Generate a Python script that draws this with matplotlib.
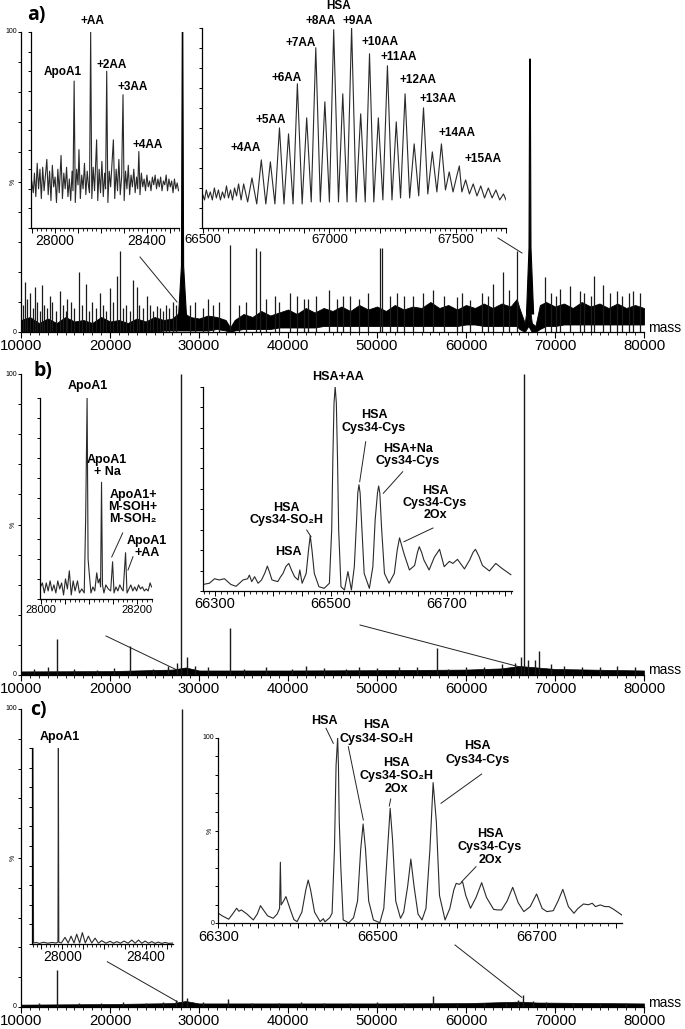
import matplotlib
matplotlib.use('Agg')
import matplotlib.pyplot as plt
from matplotlib.ticker import MultipleLocator, FuncFormatter
from matplotlib.lines import Line2D

W, H = 685, 1029
plt.rcParams['font.family'] = ['Liberation Sans', 'DejaVu Sans']

# ---------------- DATA ----------------
# Panel a, main spectrum (noise envelope, spikes, main peaks)
a_band_x = [10000, 11000, 12000, 13000, 14000, 15000, 16000, 17000, 18000, 19000, 20000, 21000, 22000, 23000,
            24000, 25000, 26000, 27000, 28000, 29000, 30000, 31000, 32000, 33000, 33500, 34000, 35000, 36000,
            37000, 38000, 39000, 40000, 41000, 42000, 43000, 44000, 45000, 46000, 47000, 48000, 49000, 50000,
            51000, 52000, 53000, 54000, 55000, 56000, 57000, 58000, 59000, 60000, 61000, 62000, 63000, 64000,
            65000, 65700, 66000, 66600, 67000, 67400, 67800, 68300, 69000, 70000, 71000, 72000, 73000, 74000,
            75000, 76000, 77000, 78000, 79000, 80000]
a_band_hi = [4, 5, 3, 4.5, 3, 5, 3.5, 4, 3, 5, 3.5, 4, 3, 4.5, 3.5, 5, 4, 4.5, 7, 5, 4.5, 5.5, 5, 4, 1.5, 4, 6, 5,
             7, 5.5, 6.5, 7.5, 6, 8, 6.5, 8, 7, 8.5, 7, 9, 7.5, 8.5, 7, 9, 7.5, 8.5, 8, 10, 8, 9, 7.5, 9, 8, 9.5,
             8, 9.5, 8.5, 11, 8, 3, 12, 3, 2, 9, 10, 8.5, 9.5, 8, 10, 8.5, 9.5, 8, 9.5, 8, 9, 8]
a_band_lo = [0, 0, 0, 0, 0, 0, 0, 0, 0, 0, 0, 0, 0, 0, 0, 0, 0.5, 0.5, 0.5, 0.5, 0.5, 0.5, 1, 0.5, 0, 0.5, 1, 1,
             1, 1, 1.5, 1.5, 1.5, 1.5, 1.5, 2, 2, 2, 2, 2, 2, 2, 2, 2, 2, 2, 2, 2, 2, 2, 2, 2.5, 2.5, 2, 2, 2, 2,
             2, 1, 0, 2, 0, 0, 1, 2, 2, 2.5, 2.5, 2.5, 2.5, 2.5, 2.5, 2.5, 2.5, 2.5, 2.5]
a_spike_x = [10200, 10450, 10700, 11010, 11300, 11570, 11800, 12100, 12330, 12600, 12900, 13260, 13500, 13900,
             14380, 14700, 15000, 15200, 15600, 16000, 16520, 16900, 17270, 17600, 18000, 18400, 18880, 19200,
             19600, 20000, 20300, 20750, 21120, 21500, 21800, 22200, 22550, 23000, 23300, 23700, 24120, 24500,
             24800, 25250, 25600, 25900, 26300, 26600, 27080, 27400, 29000, 29600, 30400, 31000, 31600, 32300,
             33480, 34500, 35300, 36400, 36850, 37500, 38500, 39000, 40200, 41000, 41800, 42300, 43200, 44600,
             45500, 46200, 47000, 48000, 49000, 50300, 50600, 51500, 52300, 53000, 54000, 55200, 56300, 57500,
             58960, 59500, 60450, 61800, 62500, 63070, 64190, 64800, 65700, 68880, 69600, 70100, 70560, 71690,
             72810, 73300, 74000, 74380, 75430, 76200, 76930, 77500, 78300, 78800, 79550]
a_spike_h = [9, 16.8, 11, 13, 8, 15, 10, 7, 15.6, 9, 8, 12, 10, 7, 13.6, 9, 7, 11, 10, 8, 20, 9, 16, 7, 10, 8, 13,
             9, 7, 14.7, 10, 18.7, 27, 8, 9, 7, 17.3, 15, 9, 8, 12, 9, 7, 8.7, 8, 7, 9, 8, 10, 9, 9, 10, 8, 11, 9,
             10, 29, 9, 10, 28, 27, 11, 12, 10, 13, 12, 11, 11, 12, 14, 11, 12, 12, 11, 13, 28, 28, 12, 13, 12,
             12, 13, 14, 12, 11.8, 13, 10.7, 13, 12, 16, 20, 14, 27, 18.3, 13, 12, 14.3, 15.4, 13.6, 13, 12,
             18.7, 15.7, 13, 13.6, 12, 13, 13.6, 13]
a_apo_x = [27700, 28030, 28120, 28180, 28270, 28600]
a_apo_y = [5, 22, 100, 100, 22, 5]
a_hsa_x = [66800, 67080, 67160, 67220, 67300, 67600]
a_hsa_y = [6, 28, 91, 91, 28, 6]

# Panel a, ApoA1 inset
a_in1_x = [27898, 27905, 27910, 27916, 27922, 27928, 27934, 27940, 27946, 27952, 27958, 27964, 27970, 27976,
           27982, 27988, 27994, 28000, 28006, 28012, 28018, 28026, 28032, 28038, 28044, 28050, 28056, 28062,
           28068, 28074, 28078, 28083, 28088, 28094, 28100, 28104, 28110, 28116, 28122, 28128, 28134, 28140,
           28146, 28150, 28155, 28160, 28166, 28172, 28181, 28186, 28192, 28198, 28204, 28210, 28216, 28220,
           28225, 28230, 28236, 28242, 28248, 28254, 28260, 28266, 28272, 28278, 28284, 28290, 28296, 28301,
           28307, 28313, 28319, 28325, 28331, 28337, 28343, 28349, 28355, 28360, 28365, 28370, 28376, 28382,
           28388, 28394, 28400, 28406, 28412, 28418, 28424, 28430, 28436, 28442, 28448, 28454, 28460, 28466,
           28472, 28478, 28484, 28490, 28496, 28502, 28508, 28514, 28520, 28526, 28532, 28538]
a_in1_y = [24, 18, 28, 16, 33, 20, 30, 15, 31, 19, 27, 35, 17, 29, 14, 32, 21, 26, 13, 30, 18, 37, 15, 28, 20,
           31, 16, 25, 14, 29, 19, 75, 13, 30, 22, 40, 15, 27, 20, 33, 17, 29, 21, 18, 100, 15, 31, 19, 45, 14,
           30, 18, 34, 16, 28, 20, 80, 13, 29, 21, 33, 45, 15, 30, 19, 35, 17, 26, 68, 14, 29, 20, 32, 17, 27,
           21, 30, 18, 26, 20, 39, 17, 28, 21, 25, 19, 27, 21, 24, 19, 26, 22, 27, 20, 25, 21, 26, 19, 24, 22,
           27, 19, 25, 21, 24, 18, 25, 20, 23, 19]

# Panel a, HSA inset
a_in2_x = [66497, 66505, 66512, 66520, 66528, 66536, 66544, 66552, 66560, 66568, 66576, 66584, 66592, 66600,
           66608, 66616, 66624, 66632, 66640, 66650, 66660, 66676, 66693, 66712, 66730, 66748, 66766, 66784,
           66802, 66820, 66838, 66856, 66873, 66892, 66910, 66928, 66946, 66964, 66982, 67000, 67017, 67036,
           67053, 67070, 67088, 67106, 67124, 67142, 67159, 67176, 67194, 67212, 67230, 67248, 67265, 67282,
           67300, 67318, 67336, 67354, 67373, 67390, 67408, 67426, 67444, 67460, 67475, 67490, 67505, 67515,
           67525, 67540, 67555, 67570, 67585, 67600, 67615, 67630, 67645, 67660, 67675, 67690, 67700]
a_in2_y = [17, 14, 19, 15, 18, 14, 20, 15, 19, 14, 18, 15, 21, 15, 19, 14, 20, 16, 22, 14, 22, 13, 25, 12, 34,
           12, 33, 12, 50, 12, 47, 12, 72, 12, 55, 13, 90, 13, 63, 13, 99, 13, 67, 13, 100, 13, 57, 13, 87, 13,
           55, 14, 81, 14, 53, 15, 67, 15, 42, 16, 60, 17, 38, 18, 42, 19, 28, 18, 26, 31, 18, 24, 17, 22, 16,
           21, 15, 20, 15, 19, 14, 17, 14]

# Panel b, main spectrum
b_band_x = [10000, 20000, 27000, 28500, 30000, 40000, 50000, 60000, 64000, 66000, 68000, 70000, 80000]
b_band_hi = [1.2, 1.3, 1.8, 2.5, 1.5, 1.5, 1.6, 1.8, 2.2, 3, 2.5, 2, 1.5]
b_spike_x = [11500, 13000, 14045, 16000, 18500, 20500, 22250, 24800, 26500, 27500, 28030, 28600, 29500, 31000,
             33430, 35000, 37500, 40500, 42000, 44000, 46500, 48000, 50000, 52500, 54500, 56740, 58000, 60000,
             62000, 64000, 65500, 66200, 66570, 67000, 67750, 68200, 69500, 71000, 73000, 75000, 77000, 79000]
b_spike_h = [2, 2.5, 12, 2, 1.8, 2.2, 9.6, 2, 3, 4, 100, 6, 3, 2.5, 15.6, 2, 2.5, 2, 3, 2.4, 2, 2.5, 2.2, 2.5,
             2.8, 9, 2, 2.5, 2.8, 3.5, 4, 6, 100, 5, 5, 8, 3.5, 3, 2.8, 2.5, 3, 2.5]

# Panel b, ApoA1 inset
b_in1_x = [27999, 28003, 28007, 28011, 28015, 28019, 28023, 28027, 28031, 28035, 28039, 28043, 28047, 28051,
           28055, 28059, 28063, 28067, 28071, 28076, 28080, 28085, 28090, 28093, 28096, 28098, 28100, 28104,
           28108, 28112, 28116, 28119, 28122, 28124, 28126, 28128, 28131, 28135, 28140, 28145, 28149, 28152,
           28156, 28160, 28164, 28168, 28171, 28176, 28179, 28183, 28187, 28191, 28195, 28199, 28203, 28207,
           28211, 28215, 28219, 28223, 28227, 28230]
b_in1_y = [6, 8, 3, 8, 4, 9, 4, 7, 3, 9, 5, 8, 2, 10, 5, 14, 2, 9, 4, 9, 3, 5, 3, 40, 100, 20, 14, 3, 6, 4, 13,
           8, 10, 6, 58, 7, 3, 7, 5, 4, 18.5, 3, 6, 4, 7, 5, 4, 23, 3, 5, 7, 4, 6, 4, 7, 5, 6, 4, 5, 4, 8, 6]

# Panel b, HSA inset
b_in2_x = [66279, 66290, 66299, 66307, 66316, 66327, 66336, 66348, 66356, 66359, 66363, 66368, 66374, 66380,
           66386, 66390, 66394, 66398, 66408, 66413, 66417, 66422, 66427, 66432, 66437, 66443, 66446, 66450,
           66457, 66461, 66464, 66467, 66471, 66479, 66488, 66497, 66501, 66503, 66505, 66507, 66509, 66511,
           66513, 66517, 66523, 66529, 66535, 66540, 66544, 66546, 66548, 66550, 66553, 66557, 66566, 66572,
           66576, 66580, 66582, 66584, 66587, 66592, 66600, 66609, 66614, 66618, 66622, 66626, 66635, 66644,
           66649, 66652, 66656, 66660, 66669, 66678, 66687, 66695, 66704, 66710, 66718, 66730, 66739, 66745,
           66749, 66755, 66761, 66773, 66784, 66795, 66805, 66810]
b_in2_y = [3.2, 3.8, 6, 5.4, 6, 3.2, 2.3, 5.4, 6, 7.8, 4.6, 7, 3.8, 5.4, 9, 12.2, 9, 5.4, 4.6, 7, 8.6, 12,
           13.5, 10, 7, 5.4, 10.3, 3.8, 8.6, 20, 27, 20, 8.6, 2.1, 1.3, 3.8, 30, 65, 92, 100, 92, 65, 30, 2.1,
           0.5, 9.5, 0.5, 11.9, 35, 48, 52, 48, 31, 8.6, 1.3, 11.9, 35, 48, 51.4, 48, 31, 8.6, 3.8, 8.6, 20, 26,
           22, 18, 10.3, 12.5, 19, 21.7, 19, 15.2, 10.3, 16.5, 20.4, 11.9, 14.5, 13.5, 15.5, 10.8, 15.2, 19,
           20.4, 17, 12.5, 9.8, 13.5, 11, 9, 8]

# Panel c, main spectrum
c_band_x = [10000, 20000, 27000, 28500, 30000, 40000, 50000, 60000, 66000, 68000, 80000]
c_band_hi = [0.8, 1, 1.3, 2, 1.2, 1.2, 1.2, 1.3, 1.8, 1.5, 1.2]
c_spike_x = [12000, 14080, 16500, 19000, 21500, 24000, 26000, 27400, 28060, 28700, 30500, 33290, 36000, 39000,
             41500, 44000, 47000, 50000, 53000, 56260, 59000, 62000, 64500, 65800, 66440, 67500, 69000, 72000,
             75000, 78000]
c_spike_h = [1.5, 12.4, 1.5, 1.3, 1.6, 1.4, 1.8, 2.5, 100, 3, 1.6, 2.6, 1.5, 1.4, 1.8, 1.5, 1.4, 1.6, 1.5, 3.8,
             1.4, 1.5, 1.8, 2.2, 4, 2, 1.6, 1.4, 1.5, 1.4]

# Panel c, ApoA1 inset
c_in1_x = [27856, 27859, 27862, 27875, 27890, 27910, 27930, 27950, 27970, 27979, 27981, 27983, 27995, 28013,
           28028, 28042, 28056, 28069, 28083, 28096, 28110, 28125, 28141, 28157, 28173, 28189, 28209, 28229,
           28245, 28261, 28279, 28296, 28315, 28333, 28349, 28365, 28381, 28397, 28413, 28429, 28445, 28460,
           28476, 28493, 28510, 28530]
c_in1_y = [0.5, 100, 0.5, 0.8, 0.3, 0.9, 0.4, 0.8, 0.5, 1, 100, 1, 0.5, 3.4, 0.5, 4, 0.5, 5, 0.5, 5.8, 0.5, 4,
           0.5, 3, 0.4, 1.7, 0.4, 1.4, 0.4, 1.2, 0.4, 1.5, 0.4, 2, 0.4, 2, 0.4, 1.5, 0.4, 1.2, 0.3, 1, 0.3,
           0.8, 0.3, 0.5]

# Panel c, HSA inset
c_in2_x = [66300, 66305, 66313, 66318, 66323, 66326, 66329, 66336, 66344, 66349, 66353, 66357, 66362, 66369,
           66374, 66377, 66378, 66379, 66382, 66385, 66390, 66395, 66399, 66405, 66410, 66413, 66416, 66421,
           66428, 66432, 66434, 66440, 66443, 66446, 66448, 66450, 66451, 66452, 66454, 66457, 66464, 66470,
           66475, 66479, 66482, 66485, 66489, 66495, 66503, 66508, 66512, 66516, 66519, 66523, 66529, 66533,
           66538, 66542, 66546, 66551, 66556, 66561, 66566, 66570, 66574, 66578, 66585, 66591, 66596, 66599,
           66603, 66607, 66611, 66617, 66624, 66631, 66637, 66646, 66651, 66656, 66663, 66670, 66677, 66684,
           66692, 66700, 66707, 66713, 66721, 66727, 66733, 66740, 66747, 66752, 66759, 66765, 66770, 66774,
           66780, 66786, 66791, 66797, 66807]
c_in2_y = [5.4, 4, 2.2, 5, 8.1, 6.5, 7.2, 5, 1.8, 5, 9.5, 7, 4, 2.7, 5, 8, 32.9, 9.9, 12, 14.4, 8, 2, 0.9, 6, 18,
           23.3, 18, 6, 0.9, 2.5, 0.8, 3, 5.4, 40, 85, 100, 85, 55, 30, 1.8, 0.3, 3, 12, 40, 53.5, 40, 12, 1.8,
           0.3, 8, 35, 62, 45, 12, 2.7, 6, 20, 34.6, 20, 5, 1.8, 8, 40, 75.8, 55, 15, 1.8, 8, 18, 21.5, 21,
           22.4, 15, 8.1, 14, 21.9, 14, 7.5, 7.2, 7.2, 12, 19.4, 11, 6.3, 9, 15.8, 8, 6.3, 6.8, 12, 18.3, 9,
           5.4, 8, 10.4, 10, 10.8, 9, 9.9, 9, 9, 7.5, 4.5]

# ---------------- FIGURE ----------------
fig = plt.figure(figsize=(W / 100, H / 100), dpi=100)


def fx(x):
    return x / W


def fy(y):
    return 1 - y / H


def axes_px(x0, ytop, x1, ybot):
    ax = fig.add_axes([fx(x0), fy(ybot), (x1 - x0) / W, (ybot - ytop) / H])
    ax.patch.set_alpha(0)
    for s in ['top', 'right']:
        ax.spines[s].set_visible(False)
    for s in ['left', 'bottom']:
        ax.spines[s].set_linewidth(0.9)
    ax.set_ylim(0, 100)
    ax.yaxis.set_major_locator(MultipleLocator(10))
    ax.tick_params(axis='y', which='both', length=2.5, width=0.7, labelleft=False)
    return ax


def ylabels(ax, size=5):
    for v, s in [(100, '100'), (50, '%'), (0, '0')]:
        ax.annotate(s, xy=(0, v), xycoords=('axes fraction', 'data'), xytext=(-3, 0),
                    textcoords='offset points', ha='right', va='center', fontsize=size,
                    rotation=90 if s == '%' else 0)


def style_main(ax):
    ax.set_xlim(10000, 80000)
    ax.xaxis.set_major_locator(MultipleLocator(10000))
    ax.xaxis.set_minor_locator(MultipleLocator(1000))
    ax.xaxis.set_major_formatter(FuncFormatter(lambda v, p: f'{int(round(v))}'))
    ax.tick_params(axis='x', which='major', length=4, width=0.8, labelsize=10.8, pad=1)
    ax.tick_params(axis='x', which='minor', length=2.2, width=0.6)
    ylabels(ax)
    ax.text(1.006, 0.015, 'mass', transform=ax.transAxes, fontsize=10, ha='left', va='center')


def style_inset(ax, xlim, labels, major, minor, size):
    ax.set_xlim(*xlim)
    ax.xaxis.set_major_locator(MultipleLocator(major))
    ax.xaxis.set_minor_locator(MultipleLocator(minor))
    ax.xaxis.set_major_formatter(FuncFormatter(
        lambda v, p: f'{int(round(v))}' if int(round(v)) in labels else ''))
    ax.tick_params(axis='x', which='major', length=3.5, width=0.7, labelsize=size, pad=1)
    ax.tick_params(axis='x', which='minor', length=2, width=0.6)


LC = '#1a1a1a'
IC = '#2a2a2a'

# ---- Panel a
ax = axes_px(21, 32, 644, 332)
style_main(ax)
ax.fill_between(a_band_x, a_band_lo, a_band_hi, color='black', lw=0.6)
ax.vlines(a_spike_x, 0, a_spike_h, color=LC, lw=0.9)
ax.fill(a_apo_x, a_apo_y, color='black', lw=0.8)
ax.fill(a_hsa_x, a_hsa_y, color='black', lw=0.8)

ai1 = axes_px(31, 32, 179, 228)
style_inset(ai1, (27895, 28540), [28000, 28400], 100, 20, 10)
ai1.plot(a_in1_x, a_in1_y, color=IC, lw=0.8)

ai2 = axes_px(202, 27.7, 506, 228)
style_inset(ai2, (66495, 67700), [66500, 67000, 67500], 100, 20, 9.5)
ai2.plot(a_in2_x, a_in2_y, color=IC, lw=0.8)

# ---- Panel b
bx = axes_px(21, 374, 644, 675)
style_main(bx)
bx.fill_between(b_band_x, 0, b_band_hi, color='black', lw=0.5)
bx.vlines(b_spike_x, 0, b_spike_h, color=LC, lw=1.0)

bi1 = axes_px(40, 397.7, 152, 599)
style_inset(bi1, (27998, 28231), [28000, 28200], 50, 10, 8)
bi1.plot(b_in1_x, b_in1_y, color=IC, lw=0.8)

bi2 = axes_px(203, 386.7, 512, 591)
style_inset(bi2, (66279, 66812), [66300, 66500, 66700], 50, 10, 10.5)
bi2.plot(b_in2_x, b_in2_y, color=IC, lw=0.8)

# ---- Panel c
cx = axes_px(21, 709, 644, 1007)
style_main(cx)
cx.fill_between(c_band_x, 0, c_band_hi, color='black', lw=0.5)
cx.vlines(c_spike_x, 0, c_spike_h, color=LC, lw=1.0)

ci1 = axes_px(32.3, 748, 173.3, 944)
style_inset(ci1, (27856, 28532), [28000, 28400], 100, 20, 10)
ci1.plot(c_in1_x, c_in1_y, color=IC, lw=0.8)

ci2 = axes_px(218.3, 737.7, 621.7, 923.3)
style_inset(ci2, (66300, 66807), [66300, 66500, 66700], 50, 10, 10.5)
ci2.plot(c_in2_x, c_in2_y, color=IC, lw=0.8)
ylabels(ci2, 5)

# ---------------- TEXT ----------------
BF = ['Liberation Sans', 'DejaVu Sans']


def lab(x, y, s, size=8.5, ls=1.05):
    fig.text(fx(x), fy(y), s, ha='center', va='center', fontsize=size, fontweight='bold',
             family=BF, linespacing=ls)


def seg(x0, y0, x1, y1, lw=0.7):
    fig.add_artist(Line2D([fx(x0), fx(x1)], [fy(y0), fy(y1)], transform=fig.transFigure,
                          color='#222222', lw=lw))


for x, y, s in [(36, 15, 'a)'), (43, 371, 'b)'), (38, 710, 'c)')]:
    fig.text(fx(x), fy(y), s, ha='center', va='center', fontsize=14, fontweight='bold',
             family=['Open Sans', 'DejaVu Sans'])

# panel a labels
for x, y, s in [(63, 72, 'ApoA1'), (92, 21, '+AA'), (112, 65, '+2AA'), (133, 87, '+3AA'), (148, 145, '+4AA'),
                (338.3, 6, 'HSA'), (320.7, 20.7, '+8AA'), (357.7, 20.7, '+9AA'), (301, 42.7, '+7AA'),
                (380, 41.7, '+10AA'), (398.3, 56.7, '+11AA'), (286.7, 77.7, '+6AA'), (417.7, 80, '+12AA'),
                (438.3, 98.7, '+13AA'), (270.7, 120, '+5AA'), (456.7, 132.7, '+14AA'), (245.7, 148.3, '+4AA'),
                (482.7, 158.7, '+15AA')]:
    lab(x, y, s)

# panel b labels
for x, y, s in [(88, 386, 'ApoA1'), (107, 466, 'ApoA1\n+ Na'), (133, 507, 'ApoA1+\nM-SOH+\nM-SOH\u2082'),
                (147, 547, 'ApoA1\n+AA'), (338, 377, 'HSA+AA'), (374, 421.5, 'HSA\nCys34-Cys'),
                (408, 455, 'HSA+Na\nCys34-Cys'), (435, 503, 'HSA\nCys34-Cys\n2Ox'),
                (286, 514, 'HSA\nCys34-SO\u2082H'), (288, 552, 'HSA')]:
    lab(x, y, s, 9, 1.05)

# panel c labels
for x, y, s in [(60, 737, 'ApoA1'), (324, 720.7, 'HSA'), (376.7, 732, 'HSA\nCys34-SO\u2082H'),
                (396, 776, 'HSA\nCys34-SO\u2082H\n2Ox'), (477.3, 753, 'HSA\nCys34-Cys'),
                (490, 847, 'HSA\nCys34-Cys\n2Ox')]:
    lab(x, y, s, 9, 1.12)

# pointer lines
for s in [(122.7, 533, 111.7, 557), (133, 556.7, 128, 570), (365.7, 441.7, 359.7, 481.7),
          (402.7, 471.7, 383.3, 493.3), (433, 528, 404, 541.7), (306.7, 530, 311, 536.7),
          (326, 728.3, 333.3, 743.3), (348.3, 746.7, 363.3, 820), (390.7, 799, 389.3, 806),
          (481.7, 774, 441, 803.3), (476, 866.7, 461.7, 881.7)]:
    seg(*s)

# inset connector lines
for s in [(140, 257, 177, 302), (498, 238, 522, 253), (106, 636, 177, 670), (360, 625, 520, 667),
          (107.3, 961.7, 177.3, 1001.7), (455, 945, 521.7, 997.3)]:
    seg(*s)

fig.savefig('out.png', dpi=100)
